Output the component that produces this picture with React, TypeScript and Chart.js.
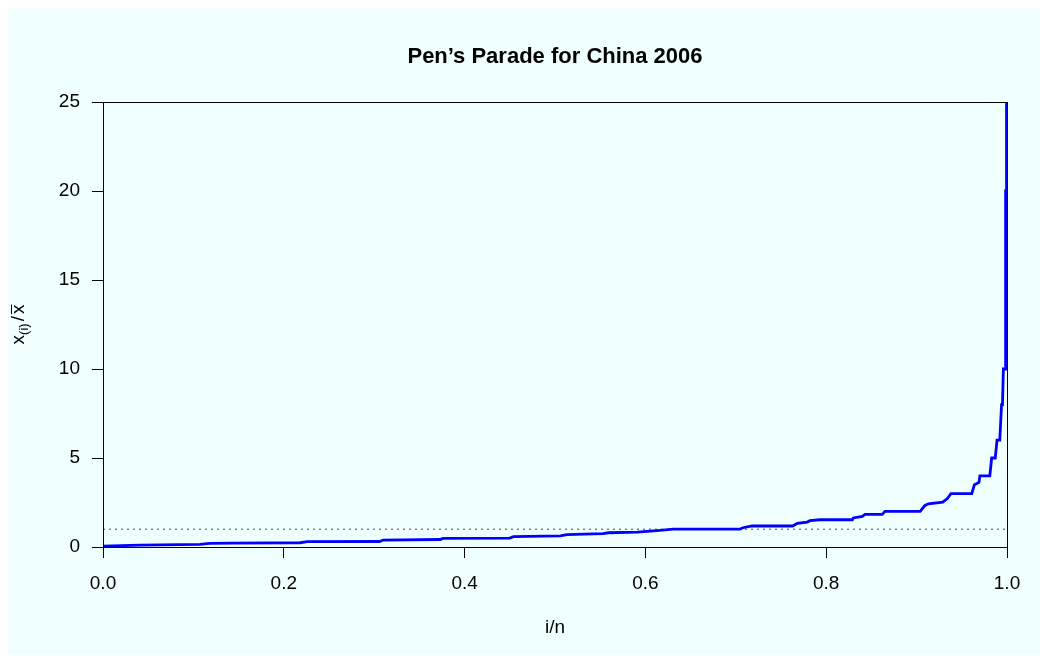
import { useEffect, useRef } from "react";
import { Chart, registerables } from "chart.js";

Chart.register(...registerables);

// Title and axis captions
const chartTitle = "Pen’s Parade for China 2006";
const xCaption = "i/n";

// Population share (i/n) and income relative to the mean, x(i) / mean
const shares = [
  0, 0.041, 0.107, 0.118, 0.143, 0.218, 0.226, 0.306, 0.31, 0.373,
  0.376, 0.45, 0.454, 0.506, 0.513, 0.553, 0.559, 0.591, 0.602, 0.616,
  0.631, 0.705, 0.707, 0.718, 0.763, 0.768, 0.779, 0.782, 0.793, 0.829,
  0.83, 0.84, 0.843, 0.862, 0.865, 0.904, 0.909, 0.913, 0.929, 0.934,
  0.938, 0.961, 0.964, 0.969, 0.97, 0.981, 0.983, 0.987, 0.989, 0.992,
  0.993, 0.994, 0.995, 0.996, 0.9978, 0.998, 0.9986, 0.9988, 0.9993, 0.9995,
  1.0,
];
const relIncome = [
  0.05, 0.1, 0.15, 0.2, 0.22, 0.24, 0.3, 0.31, 0.39, 0.42,
  0.48, 0.5, 0.58, 0.62, 0.69, 0.75, 0.8, 0.84, 0.88, 0.93,
  1.0, 1.0, 1.07, 1.18, 1.18, 1.33, 1.4, 1.48, 1.53, 1.53,
  1.63, 1.72, 1.83, 1.83, 2.0, 2.0, 2.32, 2.43, 2.52, 2.72,
  3.0, 3.0, 3.5, 3.63, 4.0, 4.0, 5.0, 5.0, 6.0, 6.0,
  7.0, 8.0, 8.0, 10.0, 10.0, 15.0, 15.0, 20.0, 20.0, 25.0,
  25.0,
];

// Reference level (the mean) and axis ticks
const meanLevel = 1;
const xTicks = [0, 0.2, 0.4, 0.6, 0.8, 1.0];
const yTicks = [0, 5, 10, 15, 20, 25];

const FAMILY = "'Liberation Sans', Arial, Helvetica, sans-serif";
const BG = "#F0FFFF";
const W = 1032;
const H = 647;

const decor = {
  id: "decor",
  beforeDraw(chart: any) {
    const ctx = chart.ctx;
    ctx.save();
    ctx.fillStyle = BG;
    ctx.fillRect(0, 0, chart.width, chart.height);
    ctx.restore();
  },
  afterDraw(chart: any) {
    const ctx = chart.ctx;
    const { left, right, top, bottom } = chart.chartArea;
    const cx = (left + right) / 2;
    const cy = (top + bottom) / 2;
    ctx.save();
    // frame around the plot region
    ctx.strokeStyle = "#000";
    ctx.lineWidth = 1;
    ctx.strokeRect(Math.round(left) + 0.5, Math.round(top) + 0.5, Math.round(right - left), Math.round(bottom - top));

    ctx.fillStyle = "#000";
    // main title
    ctx.font = `bold 22px ${FAMILY}`;
    ctx.textAlign = "center";
    ctx.textBaseline = "alphabetic";
    ctx.fillText(chartTitle, cx, 55);

    // x caption
    ctx.font = `19px ${FAMILY}`;
    ctx.fillText(xCaption, cx, 625);

    // y caption: x subscript (i) over x-bar, rotated
    const fs = 19;
    const sub = 13;
    ctx.translate(16, cy);
    ctx.rotate(-Math.PI / 2);
    ctx.textAlign = "left";
    ctx.font = `${fs}px ${FAMILY}`;
    const wx = ctx.measureText("x").width;
    const wSlash = ctx.measureText("/").width;
    ctx.font = `${sub}px ${FAMILY}`;
    const wSub = ctx.measureText("(i)").width;
    const gap = 2;
    const total = wx + wSub + gap + wSlash + gap + wx;
    let px = -total / 2;
    ctx.font = `${fs}px ${FAMILY}`;
    ctx.fillText("x", px, 0);
    px += wx;
    ctx.font = `${sub}px ${FAMILY}`;
    ctx.fillText("(i)", px, 4);
    px += wSub + gap;
    ctx.font = `${fs}px ${FAMILY}`;
    ctx.fillText("/", px, 0);
    px += wSlash + gap;
    ctx.fillText("x", px, 0);
    ctx.fillRect(px, -13, wx, 1);
    ctx.restore();
  },
};

export default function App() {
  const ref = useRef<HTMLCanvasElement | null>(null);

  useEffect(() => {
    if (!ref.current) return;
    const chart = new Chart(ref.current, {
      type: "line",
      data: {
        datasets: [
          {
            data: shares.map((x, i) => ({ x, y: relIncome[i] })),
            borderColor: "#0000FF",
            borderWidth: 2.8,
            pointRadius: 0,
            tension: 0,
            fill: false,
            order: 0,
          },
          {
            data: [
              { x: 0, y: meanLevel },
              { x: 1, y: meanLevel },
            ],
            borderColor: "#444444",
            borderWidth: 1,
            borderDash: [2, 4],
            pointRadius: 0,
            fill: false,
            order: 1,
          },
        ],
      },
      options: {
        animation: false,
        responsive: false,
        events: [],
        layout: { padding: { top: 94, right: 33, left: 0, bottom: 0 } },
        plugins: {
          legend: { display: false },
          tooltip: { enabled: false },
          title: { display: false },
        },
        scales: {
          x: {
            type: "linear",
            min: 0,
            max: 1,
            afterBuildTicks: (s: any) => {
              s.ticks = xTicks.map((v) => ({ value: v }));
            },
            afterFit: (s: any) => {
              s.height = H - 539;
            },
            ticks: {
              callback: (v: any) => Number(v).toFixed(1),
              font: { family: FAMILY, size: 19 },
              color: "#000",
              padding: 14,
              maxRotation: 0,
              autoSkip: false,
            },
            grid: { drawOnChartArea: false, drawTicks: true, tickLength: 11, color: "#000" },
            border: { display: true, color: "#000", width: 1 },
          },
          y: {
            type: "linear",
            min: 0,
            max: 25,
            afterBuildTicks: (s: any) => {
              s.ticks = yTicks.map((v) => ({ value: v }));
            },
            afterFit: (s: any) => {
              s.width = 95;
            },
            ticks: {
              callback: (v: any) => String(v),
              font: { family: FAMILY, size: 19 },
              color: "#000",
              padding: 12,
              autoSkip: false,
            },
            grid: { drawOnChartArea: false, drawTicks: true, tickLength: 11, color: "#000" },
            border: { display: true, color: "#000", width: 1 },
          },
        },
      },
      plugins: [decor],
    });
    return () => chart.destroy();
  }, []);

  return (
    <div style={{ width: W, height: H }}>
      <canvas ref={ref} width={W} height={H} style={{ display: "block" }} />
    </div>
  );
}
